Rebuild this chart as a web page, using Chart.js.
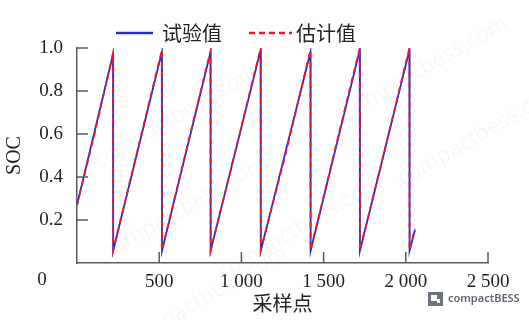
<!DOCTYPE html>
<html>
<head>
<meta charset="utf-8">
<script src="https://cdn.jsdelivr.net/npm/chart.js@4.4.1/dist/chart.umd.min.js"></script>
<style>
  html, body { margin: 0; padding: 0; background: #fff; }
  #wrap { width: 529px; height: 320px; }
</style>
</head>
<body>
<div id="wrap"><canvas id="soc-chart" width="529" height="320"></canvas></div>
<script>
// saw-tooth vertices: sample index -> SOC
const testX =   [0, 219, 220, 516, 517, 812, 813, 1117, 1118, 1420, 1421, 1720, 1721, 2022, 2023, 2056];
const testSOC = [0.27, 0.97, 0.057, 0.98, 0.057, 0.98, 0.057, 0.99, 0.057, 0.98, 0.057, 0.99, 0.057, 0.99, 0.057, 0.155];

const estX =   [0, 110, 219, 220, 370, 516, 517, 660, 812, 813, 960, 1117, 1118, 1270, 1420, 1421, 1570, 1720, 1721, 1870, 2022, 2023, 2056];
const estSOC = [0.27, 0.61, 0.975, 0.06, 0.53, 0.99, 0.06, 0.51, 0.985, 0.06, 0.51, 1.0, 0.06, 0.51, 0.99, 0.06, 0.53, 1.0, 0.06, 0.52, 1.0, 0.06, 0.16];

const seriesNames = ['试验值', '估计值'];
const xTicks = [0, 500, 1000, 1500, 2000, 2500];
const yTicks = [0, 0.2, 0.4, 0.6, 0.8, 1.0];

const BLUE = '#1f2fd2';
const RED = '#f2142c';
const AXIS = '#5a5a5a';
const TEXT = '#222';
const serif = "'Liberation Serif', 'Noto Sans CJK SC', serif";
const tickFont = { family: serif, size: 19 };
const titleFont = { family: serif, size: 20 };

function fmtThousands(v) {
    if (v >= 1000) return Math.floor(v / 1000) + ' ' + String(v % 1000).padStart(3, '0');
    return String(v);
}

function toPoints(xs, ys) {
    return xs.map((x, i) => ({ x, y: ys[i] }));
}

// inward tick marks, the shared "0" label, legend, watermark
const extras = {
    id: 'extras',
    beforeDraw(chart) {
        const ctx = chart.ctx;
        ctx.save();
        ctx.fillStyle = '#fff';
        ctx.fillRect(0, 0, chart.width, chart.height);
        ctx.fillStyle = 'rgba(0,0,0,0.03)';
        ctx.font = "22px 'Noto Sans', sans-serif";
        ctx.textAlign = 'center';
        ctx.textBaseline = 'middle';
        [[176, 117], [185, 208], [205, 298], [425, 68], [300, 228], [480, 135]].forEach(([x, y]) => {
            ctx.save();
            ctx.translate(x, y);
            ctx.rotate(-Math.PI / 6);
            ctx.fillText('compactbess.com', 0, 0);
            ctx.restore();
        });
        ctx.restore();
    },
    afterDraw(chart) {
        const ctx = chart.ctx;
        const xs = chart.scales.x;
        const ys = chart.scales.y;
        const area = chart.chartArea;
        ctx.save();
        ctx.strokeStyle = AXIS;
        ctx.lineWidth = 1.5;
        ctx.beginPath();
        xTicks.forEach(v => {
            if (v === 0) return;
            const px = xs.getPixelForValue(v);
            ctx.moveTo(px, area.bottom);
            ctx.lineTo(px, area.bottom - 11);
        });
        yTicks.forEach(v => {
            if (v === 0) return;
            const py = ys.getPixelForValue(v);
            ctx.moveTo(area.left, py);
            ctx.lineTo(area.left + 11, py);
        });
        ctx.stroke();

        // origin label sits under the y labels
        ctx.fillStyle = TEXT;
        ctx.font = "19px " + serif;
        ctx.textAlign = 'center';
        ctx.textBaseline = 'top';
        ctx.fillText('0', 42, xs.top + 8);

        // legend
        const legendPos = [{ x0: 116, x1: 153, tx: 162 }, { x0: 249, x1: 292, tx: 296 }];
        const ly = 33;
        ctx.font = "20px 'Noto Sans CJK SC', sans-serif";
        ctx.textAlign = 'left';
        ctx.textBaseline = 'middle';
        chart.data.datasets.forEach((ds, i) => {
            const p = legendPos[i];
            ctx.strokeStyle = ds.borderColor;
            ctx.lineWidth = 2.5;
            ctx.setLineDash(ds.borderDash || []);
            ctx.beginPath();
            ctx.moveTo(p.x0, ly);
            ctx.lineTo(p.x1, ly);
            ctx.stroke();
            ctx.setLineDash([]);
            ctx.fillStyle = TEXT;
            ctx.fillText(ds.label, p.tx, ly);
        });

        // logo at the bottom right
        ctx.fillStyle = '#6b7280';
        ctx.fillRect(428, 292, 15, 14);
        ctx.fillStyle = '#fff';
        ctx.fillRect(431, 295, 6, 6);
        ctx.fillRect(437, 299, 3, 4);
        ctx.fillStyle = '#5f6672';
        ctx.font = "600 11px 'Noto Sans', sans-serif";
        ctx.textBaseline = 'middle';
        ctx.fillText('compactBESS', 448, 299);
        ctx.restore();
    }
};

const ctx = document.getElementById('soc-chart');
new Chart(ctx, {
    type: 'line',
    data: {
        datasets: [{
            label: seriesNames[0],
            data: toPoints(testX, testSOC),
            borderColor: BLUE,
            borderWidth: 1.8,
            pointRadius: 0,
            tension: 0,
            order: 2
        }, {
            label: seriesNames[1],
            data: toPoints(estX, estSOC),
            borderColor: RED,
            borderWidth: 1.8,
            borderDash: [6, 4],
            pointRadius: 0,
            tension: 0,
            order: 1
        }]
    },
    options: {
        responsive: false,
        animation: false,
        layout: { padding: { top: 48, right: 41, left: 0, bottom: 0 } },
        plugins: {
            legend: { display: false },
            tooltip: { enabled: false }
        },
        scales: {
            x: {
                type: 'linear',
                min: 0,
                max: 2500,
                afterBuildTicks: s => { s.ticks = xTicks.map(v => ({ value: v })); },
                afterFit: s => { s.height = 57; },
                ticks: {
                    callback: v => v === 0 ? '' : fmtThousands(v),
                    padding: 8,
                    maxRotation: 0,
                    font: tickFont,
                    color: TEXT
                },
                grid: { drawOnChartArea: false, drawTicks: false },
                border: { color: AXIS, width: 1.5 },
                title: {
                    display: true,
                    text: '采样点',
                    font: titleFont,
                    color: TEXT,
                    padding: { top: 0, bottom: 2 }
                }
            },
            y: {
                type: 'linear',
                min: 0,
                max: 1,
                afterBuildTicks: s => { s.ticks = yTicks.map(v => ({ value: v })); },
                afterFit: s => { s.width = 77; },
                ticks: {
                    callback: v => v === 0 ? '' : v.toFixed(1),
                    padding: 14,
                    font: tickFont,
                    color: TEXT
                },
                grid: { drawOnChartArea: false, drawTicks: false },
                border: { color: AXIS, width: 1.5 },
                title: {
                    display: true,
                    text: 'SOC',
                    font: titleFont,
                    color: TEXT,
                    padding: { top: 3, bottom: 0 }
                }
            }
        }
    },
    plugins: [extras]
});
</script>
</body>
</html>
